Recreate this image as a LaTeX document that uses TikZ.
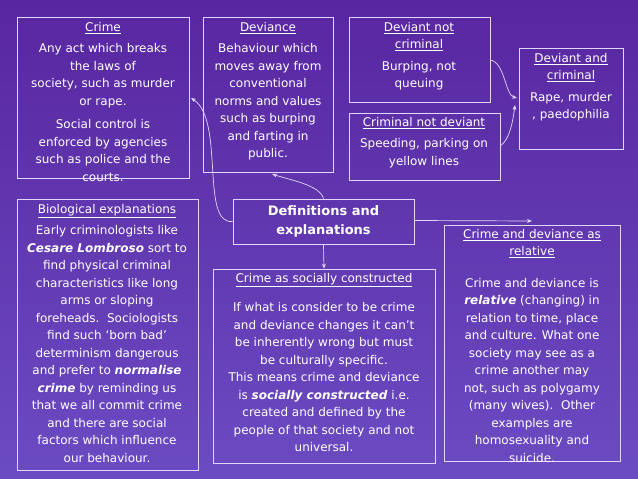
\documentclass[tikz,border=0pt]{standalone}
\usepackage{fontspec}
\setmainfont{DejaVu Sans}
\usetikzlibrary{arrows.meta}
\definecolor{bg}{RGB}{88,38,160}
\definecolor{lav}{RGB}{225,215,250}
\tikzset{
 bx/.style={draw=lav,line width=0.8pt},
 tx/.style={text=white,align=center,font=\fontsize{12}{17.5}\selectfont,inner sep=0pt},
 con/.style={draw=lav,line width=0.7pt,-{Stealth[length=5pt,width=4pt]}}
}
\newcommand{\hd}[1]{\underline{#1}}
\begin{document}
\begin{tikzpicture}[x=1pt,y=-1pt]
\shade[top color=bg,bottom color=bg!80!blue!80!white] (0,0) rectangle (638,479);
\useasboundingbox (0,0) rectangle (638,479);
% boxes
\draw[bx] (17,17) rectangle (189,178);
\node[tx,anchor=north] (crime) at (103,22) {\hd{Crime}\\[4pt]Any act which breaks\\the laws of\\society, such as murder\\or rape.\\[6pt]Social control is\\enforced by agencies\\such as police and the\\courts.};
\coordinate (crimeR) at (191,98);
\draw[bx] (203,17) rectangle (333,172);
\node[tx,anchor=north] (dev) at (268,22) {\hd{Deviance}\\[4pt]Behaviour which\\moves away from\\conventional\\norms and values\\such as burping\\and farting in\\public.};
\coordinate (devB) at (272,174);
\draw[bx] (349,17) rectangle (490,102);
\node[tx,anchor=north] (dnc) at (419,22) {\hd{Deviant not}\\\hd{criminal}\\[4pt]Burping, not\\queuing};
\draw[bx] (349,113) rectangle (500,180);
\node[tx,anchor=north] (cnd) at (424,117) {\hd{Criminal not deviant}\\[4pt]Speeding, parking on\\yellow lines};
\draw[bx] (519,48) rectangle (623,149);
\node[tx,anchor=north] (dac) at (571,53) {\hd{Deviant and}\\\hd{criminal}\\[4pt]Rape, murder\\, paedophilia};
\coordinate (dacL) at (517,98);
\coordinate (dacL2) at (515,105);
\draw[bx] (17,199) rectangle (198,470);
\node[tx,anchor=north] (bio) at (107,204) {\hd{Biological explanations}\\[4pt]Early criminologists like\\\textbf{\textit{Cesare Lombroso}} sort to\\find physical criminal\\characteristics like long\\arms or sloping\\foreheads.\ \ Sociologists\\find such ‘born bad’\\determinism dangerous\\and prefer to \textbf{\textit{normalise}}\\\textbf{\textit{crime}} by reminding us\\that we all commit crime\\and there are social\\factors which influence\\our behaviour.};
\node[bx,minimum width=181,minimum height=45,inner sep=0pt] (def) at (323.5,221.5) {};
\node[tx,font=\fontsize{13}{19}\selectfont\bfseries] at (def) {Definitions and\\explanations};
\node[bx,minimum width=222,minimum height=194,inner sep=0pt] (soc) at (324,366) {};
\node[tx,anchor=north] at (324,273) {\hd{Crime as socially constructed}\\[12pt]If what is consider to be crime\\and deviance changes it can’t\\be inherently wrong but must\\be culturally specific.\\This means crime and deviance\\is \textbf{\textit{socially constructed}} i.e.\\created and defined by the\\people of that society and not\\universal.};
\node[bx,minimum width=176,minimum height=236,inner sep=0pt] (rel) at (532,343) {};
\node[tx,anchor=north] at (532,229) {\hd{Crime and deviance as}\\\hd{relative}\\[14pt]Crime and deviance is\\\textbf{\textit{relative}} (changing) in\\relation to time, place\\and culture. What one\\society may see as a\\crime another may\\not, such as polygamy\\(many wives).\ \ Other\\examples are\\homosexuality and\\suicide.};
% connectors
\draw[con] (def.west) .. controls (200,225) and (225,120) .. (crimeR);
\draw[con] (def.north) .. controls (320,185) and (290,180) .. (devB);
\draw[con] (def.south) -- (soc.north);
\draw[con] (def.east) ++(0,-1) -- (532,221);
\draw[con] (490,60) .. controls (505,62) and (505,95) .. (dacL);
\draw[con] (500,146) .. controls (510,140) and (513,120) .. (dacL2);
\end{tikzpicture}
\end{document}
